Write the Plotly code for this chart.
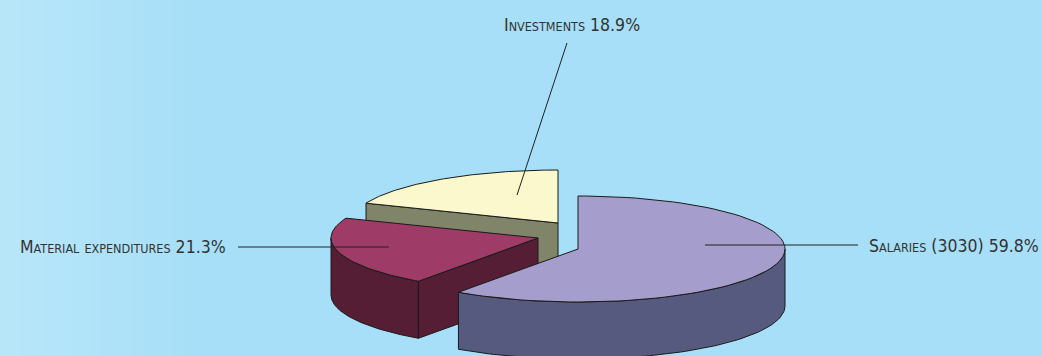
import numpy as np
import plotly.graph_objects as go

# Budget structure
categories = ["Salaries", "Material expenditures", "Investments"]
shares = [59.8, 21.3, 18.9]          # percent
salaries_amount = 3030

# drawing style
top_colors = ["#A59ECC", "#9E3B66", "#FAF8CC"]
side_colors = ["#575A7F", "#561E35", "#80856A"]
centers = [(578, 249), (538, 238), (558, 223)]   # exploded slice centres (px)
RX, RY, DEPTH = 207, 53, 57
BG = "#A7DFF8"
BG_LIGHT = (184, 230, 249)
BG_MAIN = (167, 223, 248)

W, H = 1042, 356


def pt(c, theta_deg, dz=0.0):
    t = np.radians(theta_deg)
    return c[0] + RX * np.sin(t), c[1] - RY * np.cos(t) + dz


def arc(c, a0, a1, dz=0.0, n=80):
    ts = np.linspace(a0, a1, n)
    xs, ys = zip(*[pt(c, t, dz) for t in ts])
    return list(xs), list(ys)


# slice angles, clockwise from 12 o'clock
bounds = np.concatenate([[0], np.cumsum(shares)]) / 100 * 360

fig = go.Figure()


def poly(xs, ys, fill):
    fig.add_trace(go.Scatter(
        x=list(xs) + [xs[0]], y=list(ys) + [ys[0]], mode="lines",
        fill="toself", fillcolor=fill,
        line=dict(color="#1a1a1a", width=1), hoverinfo="skip"))


def side(i, a0, a1):
    lo, hi = max(a0, 90), min(a1, 270)
    if lo >= hi:
        return
    c = centers[i]
    tx, ty = arc(c, lo, hi)
    bx, by = arc(c, hi, lo, DEPTH)
    poly(tx + bx, ty + by, side_colors[i])


def radial_face(i, ang, depth):
    c = centers[i]
    ex, ey = pt(c, ang)
    poly([c[0], ex, ex, c[0]], [c[1], ey, ey + depth, c[1] + depth], side_colors[i])


def top(i, a0, a1):
    c = centers[i]
    xs, ys = arc(c, a0, a1)
    poly([c[0]] + xs, [c[1]] + ys, top_colors[i])


# back to front: investments, material, salaries
a0, a1 = bounds[2], bounds[3]
radial_face(2, a0, DEPTH)
top(2, a0, a1)

a0, a1 = bounds[1], bounds[2]
side(1, a0, a1)
radial_face(1, a0, DEPTH)
top(1, a0, a1)

a0, a1 = bounds[0], bounds[1]
side(0, a0, a1)
top(0, a0, a1)

# leader lines
leaders = [((705, 245), (858, 245)), ((389, 247), (238, 247)), ((517, 195), (567, 43))]
for (x0, y0), (x1, y1) in leaders:
    fig.add_trace(go.Scatter(x=[x0, x1], y=[y0, y1], mode="lines",
                             line=dict(color="#222", width=1), hoverinfo="skip"))

SC = 12.5  # small-caps size


def small_caps(word):
    return f"{word[0]}<span style='font-size:{SC}px'>{word[1:].upper()}</span>"


labels = [
    f"{small_caps('Salaries')} ({salaries_amount}) {shares[0]:.1f}%",
    f"{small_caps('Material')} <span style='font-size:{SC}px'>EXPENDITURES</span> {shares[1]:.1f}%",
    f"{small_caps('Investments')} {shares[2]:.1f}%",
]
label_pos = [(867, 246, "left"), (228, 247, "right"), (572, 25, "center")]
for txt, (x, y, al) in zip(labels, label_pos):
    fig.add_annotation(x=x, y=y, text=txt, showarrow=False,
                       xanchor=al, yanchor="middle",
                       font=dict(family="Liberation Sans Narrow, DejaVu Sans Condensed, sans-serif",
                                 size=17.5, color="#333333"))

# soft lighter band along the left edge of the background
shapes = []
n_strips = 40
for k in range(n_strips):
    f = k / (n_strips - 1)
    rgb = [round(BG_LIGHT[j] + (BG_MAIN[j] - BG_LIGHT[j]) * f) for j in range(3)]
    shapes.append(dict(type="rect", xref="x", yref="y", layer="below",
                       x0=k * 5, x1=(k + 1) * 5 + 1, y0=0, y1=H,
                       fillcolor=f"rgb({rgb[0]},{rgb[1]},{rgb[2]})", line=dict(width=0)))

fig.update_layout(
    width=W, height=H, margin=dict(l=0, r=0, t=0, b=0),
    paper_bgcolor=BG, plot_bgcolor=BG, showlegend=False, shapes=shapes,
    xaxis=dict(range=[0, W], visible=False, fixedrange=True),
    yaxis=dict(range=[H, 0], visible=False, fixedrange=True),
)

fig.write_html("out.html")
